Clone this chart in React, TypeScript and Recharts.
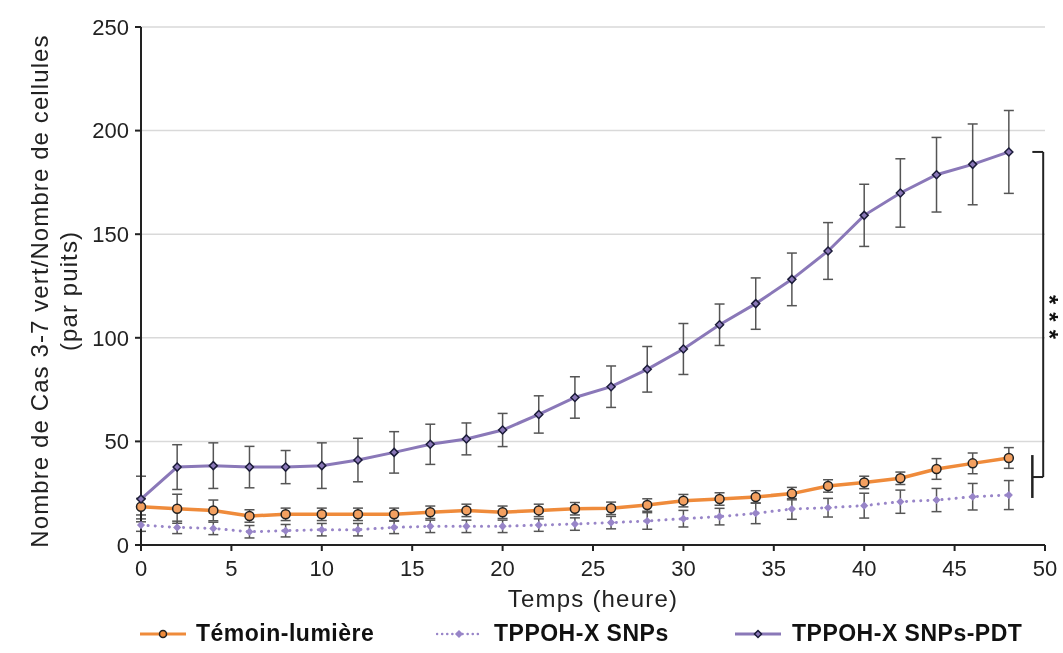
import { CartesianGrid, ErrorBar, Line, LineChart, ReferenceLine, XAxis, YAxis } from "recharts";

const hours = [0, 2, 4, 6, 8, 10, 12, 14, 16, 18, 20, 22, 24, 26, 28, 30, 32, 34, 36, 38, 40, 42, 44, 46, 48];

const temoin = [18.5, 17.5, 16.7, 14, 14.8, 14.8, 14.8, 14.8, 15.8, 16.7, 15.8, 16.7, 17.5, 17.7, 19.3, 21.4, 22.2, 23.2, 24.8, 28.5, 30.2, 32.2, 36.7, 39.4, 42];
const temoinErr = [4, 7, 5, 3, 3, 3, 3, 3, 3, 3, 3, 3, 3, 3, 3, 3, 3, 3, 3, 3, 3, 3, 5, 5, 5];

const snps = [9.6, 8.5, 8, 6.4, 6.9, 7.4, 7.4, 8.5, 9, 9, 9, 9.6, 10.1, 10.8, 11.6, 12.7, 13.7, 15.3, 17.4, 18, 19, 20.9, 21.7, 23.3, 24.1];
const snpsErr = [3, 3, 3, 3, 3, 3, 3, 3, 3, 3, 3, 3, 3, 3, 4, 4, 4, 5, 5, 4.5, 6, 5.6, 5.6, 6.4, 7];

const pdt = [22.2, 37.6, 38.3, 37.6, 37.6, 38.3, 41, 44.7, 48.6, 51.2, 55.5, 63, 71.2, 76.4, 84.8, 94.6, 106.3, 116.5, 128.2, 141.9, 159.1, 169.9, 178.7, 183.7, 189.7];
const pdtErr = [11, 10.8, 11, 10, 8, 11, 10.5, 10, 9.7, 7.7, 8, 9, 10, 10, 11, 12.3, 10, 12.4, 12.7, 13.7, 15, 16.5, 18, 19.5, 20];

const xTicks = [0, 5, 10, 15, 20, 25, 30, 35, 40, 45, 50];
const yTicks = [0, 50, 100, 150, 200, 250];

const data = hours.map((h, i) => ({
  h,
  temoin: temoin[i],
  temoinErr: temoinErr[i],
  snps: snps[i],
  snpsErr: snpsErr[i],
  pdt: pdt[i],
  pdtErr: pdtErr[i],
}));

const FONT = "'Liberation Sans', Arial, sans-serif";
const ORANGE = "#ef8b3b";
const PURPLE = "#8a78b8";
const PURPLE_DOT = "#9885c8";
const ERR = "#555555";

function Diamond({ cx, cy, r, fill, stroke }: { cx: number; cy: number; r: number; fill: string; stroke: string }) {
  return (
    <path
      d={`M${cx},${cy - r}L${cx + r},${cy}L${cx},${cy + r}L${cx - r},${cy}Z`}
      fill={fill}
      stroke={stroke}
      strokeWidth={1.5}
    />
  );
}

function YLabel() {
  return (
    <g fontFamily={FONT} fontSize={24} fill="#222" letterSpacing={1.1}>
      <text x={31} y={283} transform="rotate(-90 31 283)" textAnchor="middle" dominantBaseline="central">
        Nombre de Cas 3-7 vert/Nombre de cellules
      </text>
      <text x={60} y={283} transform="rotate(-90 60 283)" textAnchor="middle" dominantBaseline="central">
        (par puits)
      </text>
    </g>
  );
}

const legendItems = [
  { label: "Témoin-lumière", icon: 132, text: 188, kind: "temoin" },
  { label: "TPPOH-X SNPs", icon: 428, text: 486, kind: "snps" },
  { label: "TPPOH-X SNPs-PDT", icon: 727, text: 784, kind: "pdt" },
];

function LegendIcon({ kind }: { kind: string }) {
  if (kind === "temoin") {
    return (
      <svg width={46} height={12}>
        <line x1={0} y1={6} x2={46} y2={6} stroke={ORANGE} strokeWidth={3} />
        <circle cx={23} cy={6} r={3.5} fill={ORANGE} stroke="#222" strokeWidth={1.5} />
      </svg>
    );
  }
  if (kind === "snps") {
    return (
      <svg width={46} height={12}>
        <line x1={1} y1={6} x2={46} y2={6} stroke={PURPLE_DOT} strokeWidth={2.5} strokeDasharray="0.1 5" strokeLinecap="round" />
        <Diamond cx={23} cy={6} r={3} fill={PURPLE_DOT} stroke={PURPLE_DOT} />
      </svg>
    );
  }
  return (
    <svg width={46} height={12}>
      <line x1={0} y1={6} x2={46} y2={6} stroke={PURPLE} strokeWidth={3} />
      <Diamond cx={23} cy={6} r={3.5} fill={PURPLE} stroke="#1c1c3a" />
    </svg>
  );
}

export default function App() {
  return (
    <div style={{ position: "fixed", left: 8, top: 8, width: 1055, height: 645, fontFamily: FONT }}>
      <LineChart width={1055} height={615} data={data} margin={{ top: 19, right: 18, bottom: 15, left: 0 }}>
        <CartesianGrid vertical={false} stroke="#d9d9d9" strokeWidth={1.5} />
        <XAxis
          dataKey="h"
          type="number"
          domain={[0, 50]}
          ticks={xTicks}
          height={63}
          stroke="#222"
          strokeWidth={2}
          tickSize={6}
          tickMargin={9}
          tick={{ fill: "#222", fontSize: 22, fontFamily: FONT }}
          label={{ value: "Temps (heure)", position: "insideBottom", offset: 1, fill: "#222", fontSize: 24, fontFamily: FONT, letterSpacing: 1.2 }}
        />
        <YAxis
          type="number"
          domain={[0, 250]}
          ticks={yTicks}
          width={133}
          stroke="#222"
          strokeWidth={2}
          tickSize={6}
          tickMargin={6}
          tick={{ fill: "#222", fontSize: 22, fontFamily: FONT }}
          label={<YLabel />}
        />
        <ReferenceLine segment={[{ x: 49.3, y: 189.7 }, { x: 49.9, y: 189.7 }]} stroke="#222" strokeWidth={2} />
        <ReferenceLine segment={[{ x: 49.9, y: 189.7 }, { x: 49.9, y: 32.8 }]} stroke="#222" strokeWidth={2} />
        <ReferenceLine segment={[{ x: 49.3, y: 32.8 }, { x: 49.9, y: 32.8 }]} stroke="#222" strokeWidth={2} />
        <ReferenceLine segment={[{ x: 49.3, y: 43.4 }, { x: 49.3, y: 22.7 }]} stroke="#222" strokeWidth={2.5} />
        <Line
          dataKey="snps"
          stroke={PURPLE_DOT}
          strokeWidth={3}
          strokeDasharray="0.1 7"
          strokeLinecap="round"
          isAnimationActive={false}
          dot={(p: any) => <Diamond key={`s${p.index}`} cx={p.cx} cy={p.cy} r={3} fill={PURPLE_DOT} stroke={PURPLE_DOT} />}
        >
          <ErrorBar dataKey="snpsErr" direction="y" width={5} stroke={ERR} strokeWidth={1.5} />
        </Line>
        <Line
          dataKey="temoin"
          stroke={ORANGE}
          strokeWidth={3.5}
          isAnimationActive={false}
          dot={{ r: 4.5, fill: "#f3a060", stroke: "#222", strokeWidth: 1.5 }}
        >
          <ErrorBar dataKey="temoinErr" direction="y" width={5} stroke={ERR} strokeWidth={1.5} />
        </Line>
        <Line
          dataKey="pdt"
          stroke={PURPLE}
          strokeWidth={3}
          isAnimationActive={false}
          dot={(p: any) => <Diamond key={`p${p.index}`} cx={p.cx} cy={p.cy} r={4} fill={PURPLE} stroke="#1c1c3a" />}
        >
          <ErrorBar dataKey="pdtErr" direction="y" width={5} stroke={ERR} strokeWidth={1.5} />
        </Line>
      </LineChart>
      {/* significance marks beside the bracket, written top to bottom */}
      <svg width={35} height={80} overflow="visible" style={{ position: "absolute", left: 1020, top: 270 }}>
        <text
          x={13}
          y={43}
          transform="rotate(90 13 43)"
          textAnchor="middle"
          fontFamily={FONT}
          fontSize={24}
          fontWeight={700}
          letterSpacing={8}
          fill="#111"
        >
          ***
        </text>
      </svg>
      {legendItems.map((item) => (
        <div key={item.label}>
          <div style={{ position: "absolute", left: item.icon, top: 620, lineHeight: 0 }}>
            <LegendIcon kind={item.kind} />
          </div>
          <div
            style={{
              position: "absolute",
              left: item.text,
              top: 613,
              fontSize: 23,
              fontWeight: 700,
              lineHeight: "24px",
              letterSpacing: 0.5,
              color: "#111",
              whiteSpace: "nowrap",
            }}
          >
            {item.label}
          </div>
        </div>
      ))}
    </div>
  );
}
